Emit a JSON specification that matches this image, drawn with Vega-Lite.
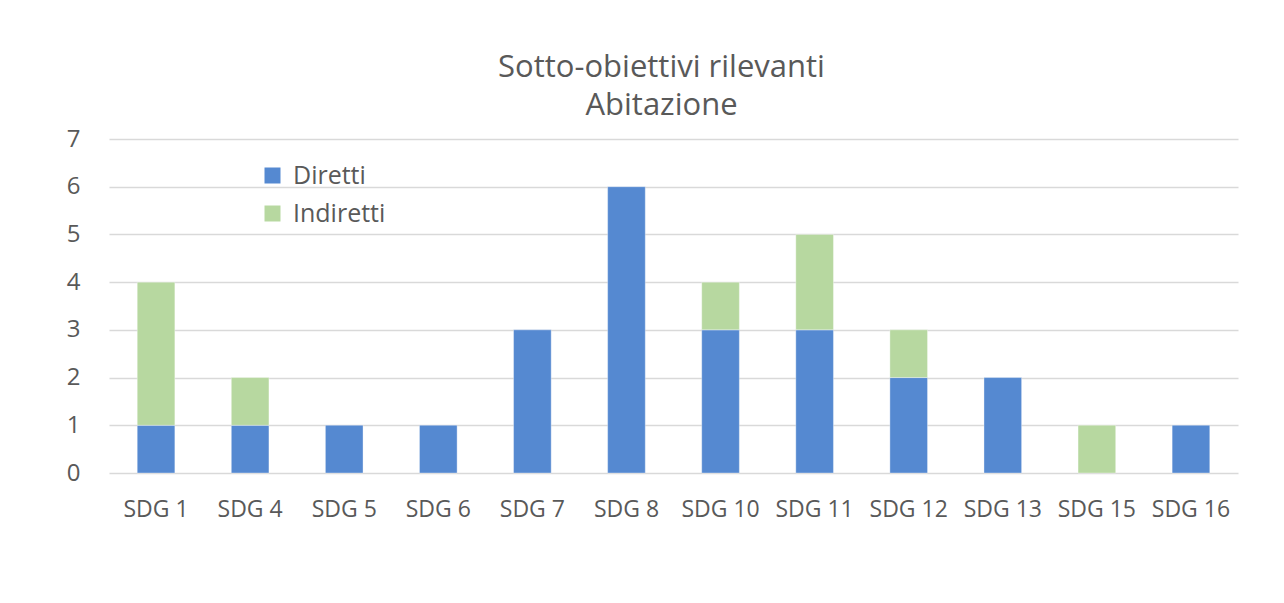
{
  "$schema": "https://vega.github.io/schema/vega-lite/v6.json",
  "autosize": "none",
  "width": 1129,
  "height": 334,
  "padding": {"left": 109, "top": 139, "right": 47, "bottom": 130},
  "background": "white",
  "title": {
    "text": ["Sotto-obiettivi rilevanti", "Abitazione"],
    "font": "Open Sans",
    "fontSize": 31,
    "fontWeight": "normal",
    "color": "#595959",
    "anchor": "middle",
    "dx": -12,
    "offset": 5,
    "lineHeight": 38
  },
  "data": {
    "values": [
      {"sdg": "SDG 1", "tipo": "Diretti", "n": 1},
      {"sdg": "SDG 1", "tipo": "Indiretti", "n": 3},
      {"sdg": "SDG 4", "tipo": "Diretti", "n": 1},
      {"sdg": "SDG 4", "tipo": "Indiretti", "n": 1},
      {"sdg": "SDG 5", "tipo": "Diretti", "n": 1},
      {"sdg": "SDG 6", "tipo": "Diretti", "n": 1},
      {"sdg": "SDG 7", "tipo": "Diretti", "n": 3},
      {"sdg": "SDG 8", "tipo": "Diretti", "n": 6},
      {"sdg": "SDG 10", "tipo": "Diretti", "n": 3},
      {"sdg": "SDG 10", "tipo": "Indiretti", "n": 1},
      {"sdg": "SDG 11", "tipo": "Diretti", "n": 3},
      {"sdg": "SDG 11", "tipo": "Indiretti", "n": 2},
      {"sdg": "SDG 12", "tipo": "Diretti", "n": 2},
      {"sdg": "SDG 12", "tipo": "Indiretti", "n": 1},
      {"sdg": "SDG 13", "tipo": "Diretti", "n": 2},
      {"sdg": "SDG 15", "tipo": "Indiretti", "n": 1},
      {"sdg": "SDG 16", "tipo": "Diretti", "n": 1}
    ]
  },
  "mark": {"type": "bar", "stroke": "white", "strokeWidth": 1, "strokeOpacity": 0.35},
  "encoding": {
    "x": {
      "field": "sdg",
      "type": "nominal",
      "sort": ["SDG 1", "SDG 4", "SDG 5", "SDG 6", "SDG 7", "SDG 8", "SDG 10", "SDG 11", "SDG 12", "SDG 13", "SDG 15", "SDG 16"],
      "scale": {"paddingInner": 0.6, "paddingOuter": 0.3},
      "axis": {
        "title": null,
        "labelAngle": 0,
        "domain": false,
        "ticks": false,
        "labelPadding": 25,
        "labelFont": "Open Sans",
        "labelFontSize": 23,
        "labelColor": "#595959"
      }
    },
    "y": {
      "field": "n",
      "type": "quantitative",
      "aggregate": "sum",
      "stack": "zero",
      "scale": {"domain": [0, 7], "nice": false},
      "axis": {
        "title": null,
        "values": [0, 1, 2, 3, 4, 5, 6, 7],
        "domain": false,
        "ticks": false,
        "grid": true,
        "gridColor": "#d9d9d9",
        "gridWidth": 1.5,
        "labelPadding": 29,
        "labelFont": "Open Sans",
        "labelFontSize": 24,
        "labelColor": "#595959"
      }
    },
    "color": {
      "field": "tipo",
      "type": "nominal",
      "scale": {"domain": ["Diretti", "Indiretti"], "range": ["#5589D1", "#B7D8A0"]},
      "legend": {
        "title": null,
        "orient": "none",
        "legendX": 151,
        "legendY": 24,
        "symbolType": "square",
        "symbolSize": 256,
        "symbolStrokeWidth": 0,
        "labelFont": "Open Sans",
        "labelFontSize": 25,
        "labelColor": "#595959",
        "labelOffset": 8,
        "rowPadding": 12
      }
    },
    "order": {"field": "tipo", "sort": "ascending"}
  },
  "config": {"view": {"stroke": null}}
}
